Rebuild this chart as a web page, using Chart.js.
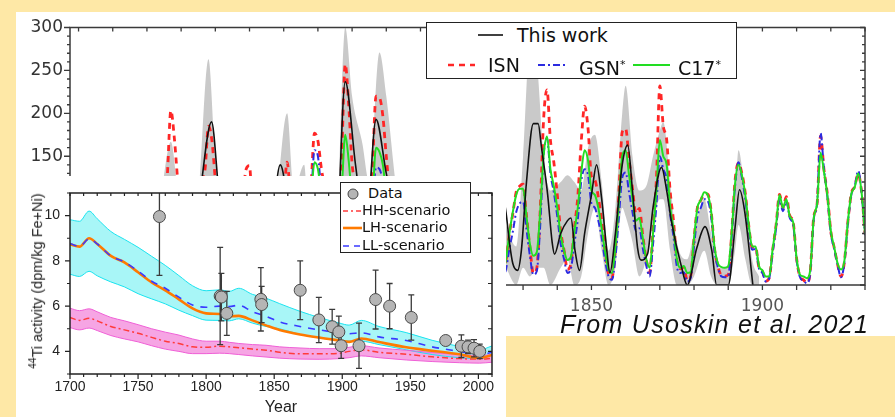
<!DOCTYPE html>
<html>
<head>
<meta charset="utf-8">
<script src="https://cdn.jsdelivr.net/npm/chart.js@4.4.0/dist/chart.umd.min.js"></script>
<style>
  html, body { margin: 0; padding: 0; background: #fee8a6; overflow: hidden; }
  #page { position: relative; width: 895px; height: 417px; background: #fee8a6; overflow: hidden; }
  .abs { position: absolute; }
  .lg { position: absolute; white-space: nowrap; color: #111; }
  #ssLegend { left: 426px; top: 22px; width: 311px; height: 57px; box-sizing: border-box;
              border: 1.5px solid #222; background: #fff; font-family: 'DejaVu Sans'; font-size: 19px; }
  #ssLegend .lg { line-height: 22px; }
  #tiLegend { left: 340px; top: 182px; width: 131px; height: 71px; box-sizing: border-box;
              border: 1.2px solid #222; background: #fff; font-family: 'DejaVu Sans'; font-size: 14.5px; }
  #tiLegend .lg { line-height: 17px; }
  #yTitle { left: 36px; top: 281px; transform: translate(-50%, -50%) rotate(-90deg);
            white-space: nowrap; font-family: 'Liberation Sans'; font-size: 14.5px; color: #222; }
  #note { left: 560px; top: 312px; font-family: 'Liberation Sans'; font-style: italic;
          font-size: 25px; line-height: 25px; letter-spacing: 1.3px; color: #111; white-space: nowrap; }
</style>
</head>
<body>
<div id="page">
  <div class="abs" style="left:16px;top:12px;width:879px;height:405px;background:#fff">
    <canvas id="ssChart" width="879" height="405"></canvas>
  </div>

  <div id="ssLegend" class="abs">
    <svg class="abs" style="left:0;top:0" width="308" height="54">
      <line x1="51" y1="12" x2="76" y2="12" stroke="#111" stroke-width="1.6"/>
      <line x1="21" y1="42" x2="48" y2="42" stroke="#ff2626" stroke-width="2.5" stroke-dasharray="6 5"/>
      <line x1="111" y1="42" x2="140" y2="42" stroke="#2b2be0" stroke-width="2" stroke-dasharray="7 3 2 3"/>
      <line x1="206" y1="42" x2="243" y2="42" stroke="#22dd22" stroke-width="2"/>
    </svg>
    <span class="lg" style="left:90px;top:1px">This work</span>
    <span class="lg" style="left:61px;top:31px">ISN</span>
    <span class="lg" style="left:152px;top:31px">GSN<sup style="font-size:11px">*</sup></span>
    <span class="lg" style="left:251px;top:31px">C17<sup style="font-size:11px">*</sup></span>
  </div>

  <div id="note" class="abs">From Usoskin et al. 2021</div>
  <div class="abs" style="left:506px;top:336px;width:389px;height:81px;background:#fee8a6"></div>

  <div class="abs" style="left:16px;top:176px;width:490px;height:241px;background:#fff">
    <canvas id="tiChart" width="490" height="241"></canvas>
  </div>
  <div id="yTitle" class="abs"><sup style="font-size:10px">44</sup>Ti activity (dpm/kg Fe+Ni)</div>

  <div id="tiLegend" class="abs">
    <svg class="abs" style="left:0;top:0" width="129" height="69">
      <circle cx="12" cy="11" r="5" fill="#b5b5b5" stroke="#444" stroke-width="1"/>
      <line x1="2" y1="28" x2="20" y2="28" stroke="#ff3b3b" stroke-width="1.5" stroke-dasharray="5 3 2 3"/>
      <line x1="2" y1="45" x2="21" y2="45" stroke="#ff7a00" stroke-width="2.6"/>
      <line x1="2" y1="63" x2="20" y2="63" stroke="#3a3aff" stroke-width="1.6" stroke-dasharray="6 5"/>
    </svg>
    <span class="lg" style="left:27px;top:2px">Data</span>
    <span class="lg" style="left:21px;top:19px">HH-scenario</span>
    <span class="lg" style="left:21px;top:36px">LH-scenario</span>
    <span class="lg" style="left:21px;top:54px">LL-scenario</span>
  </div>
</div>

<script>
'use strict';

// ===== SUNSPOT PANEL (background) =====
const ssYears = [];
for (let yr = 1700; yr <= 1930; yr++) ssYears.push(yr);

const isnVals = [
  8.3, 18.3, 26.7, 38.3, 60.0, 96.7, 48.3, 33.3, 16.7, 13.3,
  5.0, 0.0, 0.0, 3.3, 18.3, 45.0, 78.3, 105.0, 100.0, 65.0,
  46.7, 43.3, 36.7, 18.3, 35.0, 66.7, 130.0, 203.3, 171.7, 121.7,
  78.3, 58.3, 18.3, 8.3, 26.7, 56.7, 116.7, 135.0, 185.0, 168.3,
  121.7, 66.7, 33.3, 26.7, 8.3, 18.3, 36.7, 66.7, 100.0, 134.8,
  139.0, 79.5, 79.7, 51.2, 20.3, 16.0, 17.0, 54.0, 79.3, 90.0,
  104.8, 143.2, 102.0, 75.2, 60.7, 34.8, 19.0, 63.0, 116.3, 176.8,
  168.0, 136.0, 110.8, 58.0, 51.0, 11.7, 33.0, 154.2, 257.3, 209.8,
  141.3, 113.5, 64.2, 38.0, 17.0, 40.2, 138.2, 220.0, 218.2, 196.8,
  149.8, 111.0, 100.0, 78.2, 68.3, 35.5, 26.7, 10.7, 6.8, 11.3,
  24.2, 56.7, 75.0, 71.8, 79.2, 70.3, 46.8, 16.8, 13.5, 4.2,
  0.0, 2.3, 8.3, 20.3, 23.2, 59.0, 76.3, 68.3, 52.9, 38.5,
  24.2, 9.2, 6.3, 2.2, 11.4, 28.2, 59.9, 83.0, 108.5, 115.2,
  117.4, 80.8, 44.3, 13.4, 19.5, 85.8, 192.7, 227.3, 168.7, 143.0,
  105.5, 63.3, 40.3, 18.1, 25.1, 65.8, 102.7, 166.3, 208.3, 182.5,
  126.3, 122.0, 102.7, 74.1, 39.0, 12.7, 8.2, 43.4, 104.4, 178.3,
  182.2, 146.6, 112.1, 83.5, 89.2, 57.8, 30.7, 13.9, 62.8, 123.6,
  232.0, 185.3, 169.2, 110.1, 74.5, 28.3, 18.9, 20.7, 5.7, 10.0,
  53.7, 90.5, 99.0, 106.1, 105.8, 86.3, 42.4, 21.8, 11.2, 10.4,
  11.8, 59.5, 121.7, 142.0, 130.0, 106.6, 69.4, 43.8, 44.4, 20.2,
  15.7, 4.6, 8.5, 40.8, 70.1, 105.5, 90.1, 102.8, 80.9, 73.2,
  30.9, 9.5, 6.0, 2.4, 16.1, 79.0, 95.0, 173.6, 134.6, 105.7,
  62.7, 43.5, 23.7, 9.7, 27.9, 74.0, 106.5, 114.7, 129.7, 108.2,
  59.4
];

const gsnVals = [
  4, 9, 13, 19, 30, 48, 24, 17, 8, 7,
  2, 0, 0, 2, 9, 25, 45, 60, 58, 38,
  27, 25, 21, 10, 20, 40, 75, 115, 98, 70,
  45, 34, 10, 5, 15, 33, 68, 80, 110, 100,
  72, 40, 20, 16, 5, 11, 22, 40, 60, 80,
  83, 48, 48, 31, 12, 10, 10, 33, 48, 55,
  64, 88, 62, 46, 37, 21, 12, 50, 100, 157,
  150, 110, 85, 45, 38, 9, 20, 80, 122, 100,
  75, 60, 35, 22, 10, 26, 90, 137, 135, 120,
  90, 68, 60, 47, 41, 21, 16, 6, 4, 7,
  15, 35, 46, 44, 48, 43, 29, 10, 8, 3,
  0, 1, 5, 12, 14, 36, 47, 42, 33, 24,
  15, 6, 4, 1, 7, 18, 42, 62, 85, 95,
  97, 65, 34, 12, 16, 68, 150, 171, 130, 108,
  80, 48, 30, 14, 19, 48, 76, 120, 135, 128,
  95, 90, 75, 55, 28, 10, 6, 32, 78, 125,
  131, 108, 85, 63, 66, 43, 23, 10, 47, 93,
  150, 135, 123, 83, 56, 21, 14, 15, 4, 8,
  45, 80, 90, 100, 98, 80, 39, 20, 10, 9,
  10, 55, 115, 143, 125, 100, 65, 41, 42, 19,
  14, 4, 8, 38, 66, 100, 86, 98, 78, 70,
  29, 9, 5, 2, 15, 76, 96, 177, 135, 103,
  60, 42, 23, 9, 27, 72, 105, 115, 133, 108,
  58
];

const c17Vals = [
  6, 13, 19, 27, 42, 68, 34, 23, 12, 9,
  3, 0, 0, 2, 13, 32, 55, 75, 72, 47,
  33, 31, 26, 13, 25, 47, 92, 120, 110, 85,
  55, 41, 13, 6, 19, 40, 82, 95, 120, 115,
  85, 47, 24, 19, 6, 13, 26, 47, 70, 95,
  98, 56, 56, 36, 14, 11, 12, 38, 56, 63,
  74, 100, 72, 53, 43, 25, 14, 55, 100, 143,
  135, 105, 80, 42, 37, 9, 24, 110, 175, 145,
  100, 80, 45, 27, 12, 29, 100, 160, 155, 140,
  105, 78, 70, 55, 48, 25, 19, 8, 5, 8,
  17, 40, 53, 51, 56, 50, 33, 12, 10, 3,
  0, 2, 6, 15, 17, 42, 55, 50, 38, 28,
  18, 8, 6, 3, 12, 30, 60, 85, 105, 112,
  112, 80, 48, 34, 38, 85, 150, 173, 135, 115,
  90, 58, 40, 29, 33, 62, 90, 130, 157, 145,
  110, 105, 90, 66, 38, 18, 14, 45, 95, 150,
  157, 128, 100, 75, 78, 55, 31, 20, 60, 110,
  169, 150, 140, 92, 65, 30, 20, 22, 14, 15,
  55, 90, 99, 108, 105, 86, 44, 25, 21, 20,
  22, 60, 118, 140, 128, 105, 70, 45, 45, 22,
  17, 10, 10, 42, 70, 105, 90, 100, 80, 73,
  31, 12, 10, 8, 18, 78, 95, 154, 132, 104,
  63, 44, 25, 18, 29, 74, 106, 114, 130, 108,
  59
];

// "This work" reconstruction
const workYears = [1700, 1705, 1710, 1717, 1722, 1727, 1732, 1734, 1736, 1738.9,
  1741, 1744, 1748, 1751, 1755, 1759, 1762, 1766, 1769, 1772,
  1775, 1778, 1781, 1784, 1787, 1790, 1794, 1798, 1804, 1810,
  1816, 1821, 1824, 1825, 1826, 1827, 1828.4, 1829.5, 1831, 1833,
  1834.4, 1835.4, 1837.2, 1838.5, 1839.2, 1841, 1843, 1844, 1845.2, 1846.5,
  1848, 1850, 1851.5, 1853, 1854.5, 1855.4, 1857, 1859, 1860.6, 1862,
  1863.5, 1864.5, 1866.4, 1868, 1870.5, 1872, 1873.4, 1876.4, 1878, 1880.8,
  1883.2, 1885.2, 1886.6, 1890, 1892, 1893.3, 1894.8, 1897.2];
const workVals = [10, 60, 10, 80, 40, 110, 20, 40, 120, 190,
  110, 20, 90, 100, 20, 140, 80, 60, 115, 90,
  20, 237, 140, 60, 193, 130, 60, 10, 80, 5,
  60, 115, 105, 85, 50, 25, 17, 40, 120, 188,
  188, 160, 105, 50, 36, 60, 75, 78, 40, 17,
  60, 105, 140, 100, 40, 14, 60, 140, 163, 110,
  43, 29, 36, 90, 137, 110, 74, 20, 0, 43,
  68, 40, 0, 0, 67, 111, 86, 0];

// uncertainty band of "This work"
const grayYears = [1700, 1705, 1710, 1717, 1722, 1724, 1727, 1729, 1732, 1735,
  1738, 1740, 1744, 1748, 1750, 1753, 1756, 1758, 1761, 1763,
  1766, 1767, 1770, 1772, 1775, 1778, 1780, 1783, 1785, 1788,
  1790, 1793, 1797, 1800, 1804, 1807, 1810, 1813, 1816, 1819,
  1822, 1825, 1828, 1830, 1832, 1834, 1836, 1838, 1841, 1843,
  1845, 1847, 1849, 1851, 1853, 1855, 1857, 1859, 1860, 1862,
  1864, 1866, 1868, 1870, 1871, 1873, 1875, 1878, 1880, 1883,
  1885, 1887, 1890, 1892, 1893, 1895, 1897, 1899];
const grayUpper = [20, 80, 20, 100, 60, 100, 167, 110, 40, 100,
  263, 150, 30, 110, 118, 60, 30, 100, 200, 110,
  140, 100, 120, 110, 30, 300, 220, 165, 120, 271,
  220, 110, 30, 50, 110, 60, 20, 50, 90, 110,
  110, 70, 45, 150, 280, 260, 150, 110, 120, 128,
  120, 110, 160, 175, 120, 40, 90, 200, 232, 150,
  110, 115, 150, 180, 190, 120, 50, 30, 60, 100,
  60, 20, 20, 100, 157, 100, 30, 10];
const grayLower = [0, 0, 0, 20, 10, 20, 60, 30, 0, 20,
  100, 60, 0, 30, 40, 10, 0, 30, 80, 40,
  40, 30, 50, 40, 0, 100, 90, 40, 30, 90,
  80, 40, 0, 0, 30, 10, 0, 0, 20, 40,
  40, 20, 0, 20, 10, 20, 20, 0, 20, 30,
  0, 10, 60, 90, 40, 0, 20, 90, 80, 50,
  10, 30, 70, 100, 100, 40, 0, 0, 10, 40,
  10, 0, 0, 40, 70, 30, 0, 0];

const ssXTicks = [1700, 1750, 1800, 1850, 1900];
const ssYTicks = [0, 50, 100, 150, 200, 250, 300];

// ===== 44Ti PANEL (inset) =====
const tiYears = [1700, 1707, 1714, 1720, 1730, 1740, 1750, 1760, 1770, 1780,
  1790, 1800, 1810, 1817, 1824, 1834, 1844, 1854, 1869, 1883,
  1898, 1905, 1914, 1927, 1947, 1966, 1986, 2001, 2010];
const cyanUpper = [9.82, 9.75, 10.2, 9.86, 9.3, 8.95, 8.6, 8.2, 7.8, 7.35,
  6.9, 6.68, 6.72, 6.65, 6.79, 6.52, 6.35, 6.11, 5.77, 5.5,
  5.25, 5.16, 5.37, 5.1, 4.83, 4.49, 4.22, 4.07, 4.24];
const cyanLower = [7.41, 7.31, 7.54, 7.34, 7.07, 6.85, 6.55, 6.32, 6.1, 5.82,
  5.58, 5.38, 5.37, 5.35, 5.44, 5.25, 5.1, 5.0, 4.75, 4.6,
  4.48, 4.45, 4.45, 4.3, 4.07, 3.86, 3.72, 3.68, 3.86];
const llVals = [8.77, 8.63, 8.97, 8.75, 8.22, 7.95, 7.55, 7.1, 6.79, 6.4,
  6.05, 5.95, 6.0, 5.98, 6.04, 5.75, 5.55, 5.3, 5.1, 4.95,
  4.82, 4.78, 4.82, 4.64, 4.48, 4.2, 4.0, 3.86, 3.95];
const lhVals = [8.73, 8.63, 9.0, 8.75, 8.22, 7.93, 7.5, 7.05, 6.7, 6.3,
  5.9, 5.68, 5.65, 5.55, 5.57, 5.37, 5.15, 4.95, 4.75, 4.61,
  4.48, 4.42, 4.57, 4.41, 4.18, 4.03, 3.87, 3.71, 3.84];
const hhVals = [5.5, 5.37, 5.46, 5.35, 5.1, 4.95, 4.8, 4.62, 4.45, 4.35,
  4.2, 4.18, 4.23, 4.2, 4.16, 4.1, 4.05, 3.96, 3.89, 3.89,
  3.92, 4.0, 4.07, 3.96, 3.87, 3.76, 3.68, 3.66, 3.69];
const pinkUpper = [5.91, 5.8, 5.88, 5.75, 5.5, 5.35, 5.18, 5.0, 4.85, 4.72,
  4.55, 4.45, 4.45, 4.4, 4.35, 4.3, 4.27, 4.2, 4.15, 4.12,
  4.12, 4.18, 4.25, 4.15, 4.05, 3.95, 3.86, 3.82, 3.86];
const pinkLower = [5.05, 4.95, 5.03, 4.92, 4.7, 4.55, 4.42, 4.25, 4.1, 4.0,
  3.9, 3.9, 3.92, 3.9, 3.86, 3.8, 3.75, 3.7, 3.66, 3.65,
  3.68, 3.72, 3.8, 3.72, 3.62, 3.55, 3.5, 3.48, 3.52];

const dataYears = [1765.7, 1810.3, 1811.2, 1815.2, 1840.2, 1840.8, 1869.1, 1882.8, 1892.6, 1897.5,
  1899.2, 1912.3, 1924.5, 1934.8, 1950.7, 1976, 1987.5, 1992.4, 1996.8, 2001];
const dataVals = [9.96, 6.45, 6.4, 5.68, 6.3, 6.07, 6.7, 5.39, 5.09, 4.86,
  4.25, 4.25, 6.29, 6.0, 5.5, 4.48, 4.23, 4.2, 4.14, 4.0];
const dataErr = [2.6, 2.15, 1.05, 0.97, 1.4, 0.8, 1.3, 1.0, 0.77, 0.7,
  0.56, 1.0, 1.3, 1.0, 1.0, 0.18, 0.5, 0.3, 0.38, 0.32];

const tiXTicks = [1700, 1750, 1800, 1850, 1900, 1950, 2000];
const tiYTicks = [4, 6, 8, 10];

// ===== HELPERS =====
function pts(xs, ys) {
  return xs.map(function(x, i) { return { x: x, y: ys[i] }; });
}

function fixedTicks(list) {
  return function(scale) {
    scale.ticks = list.map(function(v) { return { value: v }; });
  };
}

// frame box + tick marks (in/out) drawn from the scales
function decoPlugin(id, frame, marks) {
  return {
    id: id,
    afterDraw: function(chart) {
      const ctx = chart.ctx;
      const a = chart.chartArea;
      const xs = chart.scales.x;
      const ys = chart.scales.y;
      ctx.save();
      ctx.strokeStyle = frame.color;
      ctx.lineWidth = frame.width;
      ctx.strokeRect(a.left, a.top, a.right - a.left, a.bottom - a.top);
      ctx.lineWidth = frame.tickWidth;
      ctx.beginPath();
      marks.forEach(function(m) {
        for (let v = m.from; v <= m.to; v += m.step) {
          const len = (m.major && v % m.major === 0) ? m.majorLen : m.len;
          const d = m.out ? len : -len;
          if (m.side === 'left' || m.side === 'right') {
            const py = ys.getPixelForValue(v);
            const x0 = m.side === 'left' ? a.left : a.right;
            const dir = m.side === 'left' ? -1 : 1;
            ctx.moveTo(x0, py);
            ctx.lineTo(x0 + dir * d, py);
          } else {
            const px = xs.getPixelForValue(v);
            const y0 = m.side === 'bottom' ? a.bottom : a.top;
            const dir = m.side === 'bottom' ? 1 : -1;
            ctx.moveTo(px, y0);
            ctx.lineTo(px, y0 + dir * d);
          }
        }
      });
      ctx.stroke();
      ctx.restore();
    }
  };
}

const errorBars = {
  id: 'errorBars',
  beforeDatasetDraw: function(chart, args) {
    if (args.index !== 0) return;
    const ctx = chart.ctx;
    const a = chart.chartArea;
    const xs = chart.scales.x;
    const ys = chart.scales.y;
    ctx.save();
    ctx.beginPath();
    ctx.rect(a.left, a.top, a.right - a.left, a.bottom - a.top);
    ctx.clip();
    ctx.strokeStyle = '#3a3a3a';
    ctx.lineWidth = 1.3;
    ctx.beginPath();
    dataYears.forEach(function(yr, i) {
      const px = xs.getPixelForValue(yr);
      const top = ys.getPixelForValue(dataVals[i] + dataErr[i]);
      const bot = ys.getPixelForValue(dataVals[i] - dataErr[i]);
      ctx.moveTo(px, top); ctx.lineTo(px, bot);
      ctx.moveTo(px - 3, top); ctx.lineTo(px + 3, top);
      ctx.moveTo(px - 3, bot); ctx.lineTo(px + 3, bot);
    });
    ctx.stroke();
    ctx.restore();
  }
};

const baseOptions = {
  responsive: false,
  animation: false,
  devicePixelRatio: 1,
  events: [],
  elements: { point: { radius: 0 }, line: { cubicInterpolationMode: 'monotone' } },
  plugins: { legend: { display: false }, tooltip: { enabled: false }, filler: { drawTime: 'beforeDatasetsDraw' } }
};

// ===== SUNSPOT CHART =====
new Chart(document.getElementById('ssChart'), {
  type: 'line',
  data: {
    datasets: [
      { label: 'This work', data: pts(workYears, workVals), borderColor: '#111', borderWidth: 1.6, order: 1 },
      { label: 'C17*', data: pts(ssYears, c17Vals), borderColor: '#22dd22', borderWidth: 2, order: 2 },
      { label: 'GSN*', data: pts(ssYears, gsnVals), borderColor: '#2b2be0', borderWidth: 2, borderDash: [7, 3, 2, 3], order: 3 },
      { label: 'ISN', data: pts(ssYears, isnVals), borderColor: '#ff2626', borderWidth: 2.8, borderDash: [6, 5], order: 4 },
      { label: 'band hi', data: pts(grayYears, grayUpper), borderColor: 'transparent', borderWidth: 0, backgroundColor: '#c9c9c9', fill: '+1', order: 5 },
      { label: 'band lo', data: pts(grayYears, grayLower), borderColor: 'transparent', borderWidth: 0, order: 6 }
    ]
  },
  options: Object.assign({}, baseOptions, {
    layout: { padding: { left: 0, top: 10, right: 30, bottom: 92 } },
    scales: {
      x: {
        type: 'linear', min: 1697.5, max: 1930,
        afterBuildTicks: fixedTicks(ssXTicks),
        afterFit: function(s) { s.height = 40; },
        grid: { display: false, drawTicks: false },
        border: { display: false },
        ticks: { padding: 13, color: '#555', maxRotation: 0, autoSkip: false,
                 font: { family: 'DejaVu Sans', size: 17, lineHeight: 1 },
                 callback: function(v) { return String(v); } }
      },
      y: {
        type: 'linear', min: 0, max: 300,
        afterBuildTicks: fixedTicks(ssYTicks),
        afterFit: function(s) { s.width = 54; },
        grid: { display: false, drawTicks: false },
        border: { display: false },
        ticks: { padding: 7, color: '#333',
                 font: { family: 'DejaVu Sans', size: 17, lineHeight: 1 },
                 callback: function(v) { return String(v); } }
      }
    }
  }),
  plugins: [decoPlugin('ssDeco', { color: '#3a3a3a', width: 1.5, tickWidth: 1.3 }, [
    { side: 'left', from: 0, to: 300, step: 10, len: 3, major: 50, majorLen: 6, out: true },
    { side: 'right', from: 0, to: 300, step: 10, len: 3, major: 50, majorLen: 5, out: false },
    { side: 'top', from: 1700, to: 1930, step: 10, len: 4, out: false },
    { side: 'bottom', from: 1700, to: 1930, step: 10, len: 5, out: true }
  ])]
});

// ===== 44Ti CHART =====
new Chart(document.getElementById('tiChart'), {
  type: 'line',
  data: {
    datasets: [
      { label: 'Data', data: pts(dataYears, dataVals), showLine: false, pointRadius: 6,
        pointBackgroundColor: '#b5b5b5', pointBorderColor: '#4a4a4a', pointBorderWidth: 1, order: 0 },
      { label: 'LL-scenario', data: pts(tiYears, llVals), borderColor: '#3a3aff', borderWidth: 1.6, borderDash: [7, 7], order: 1 },
      { label: 'LH-scenario', data: pts(tiYears, lhVals), borderColor: '#ff7a00', borderWidth: 2.6, order: 2 },
      { label: 'HH-scenario', data: pts(tiYears, hhVals), borderColor: '#ff3b3b', borderWidth: 1.5, borderDash: [6, 3, 2, 3], order: 3 },
      { label: 'HH hi', data: pts(tiYears, pinkUpper), borderColor: '#ef5fd6', borderWidth: 1,
        backgroundColor: 'rgba(243,140,220,0.78)', fill: '+1', order: 4 },
      { label: 'HH lo', data: pts(tiYears, pinkLower), borderColor: '#ef5fd6', borderWidth: 1, order: 5 },
      { label: 'LL hi', data: pts(tiYears, cyanUpper), borderColor: '#19e3ef', borderWidth: 1,
        backgroundColor: '#a8f6f7', fill: '+1', order: 6 },
      { label: 'LL lo', data: pts(tiYears, cyanLower), borderColor: '#19e3ef', borderWidth: 1, order: 7 }
    ]
  },
  options: Object.assign({}, baseOptions, {
    layout: { padding: { left: 0, top: 3, right: 14, bottom: 0 } },
    scales: {
      x: {
        type: 'linear', min: 1700, max: 2010,
        afterBuildTicks: fixedTicks(tiXTicks),
        afterFit: function(s) { s.height = 43; },
        grid: { display: false, drawTicks: false },
        border: { display: false },
        ticks: { padding: 6, color: '#222', maxRotation: 0, autoSkip: false,
                 font: { family: 'Liberation Sans', size: 14, lineHeight: 1 },
                 callback: function(v) { return String(v); } },
        title: { display: true, text: 'Year', color: '#222', padding: 0,
                 font: { family: 'Liberation Sans', size: 16 } }
      },
      y: {
        type: 'linear', min: 3, max: 11,
        afterBuildTicks: fixedTicks(tiYTicks),
        afterFit: function(s) { s.width = 54; },
        grid: { display: false, drawTicks: false },
        border: { display: false },
        ticks: { padding: 10, color: '#222',
                 font: { family: 'Liberation Sans', size: 14, lineHeight: 1 },
                 callback: function(v) { return String(v); } }
      }
    }
  }),
  plugins: [errorBars, decoPlugin('tiDeco', { color: '#222', width: 1.5, tickWidth: 1.2 }, [
    { side: 'left', from: 3, to: 11, step: 1, len: 3, major: 2, majorLen: 5, out: true },
    { side: 'right', from: 3, to: 11, step: 1, len: 4, out: false },
    { side: 'bottom', from: 1700, to: 2010, step: 10, len: 3, major: 50, majorLen: 5, out: true },
    { side: 'top', from: 1700, to: 2010, step: 10, len: 3, out: false }
  ])]
});
</script>
</body>
</html>
